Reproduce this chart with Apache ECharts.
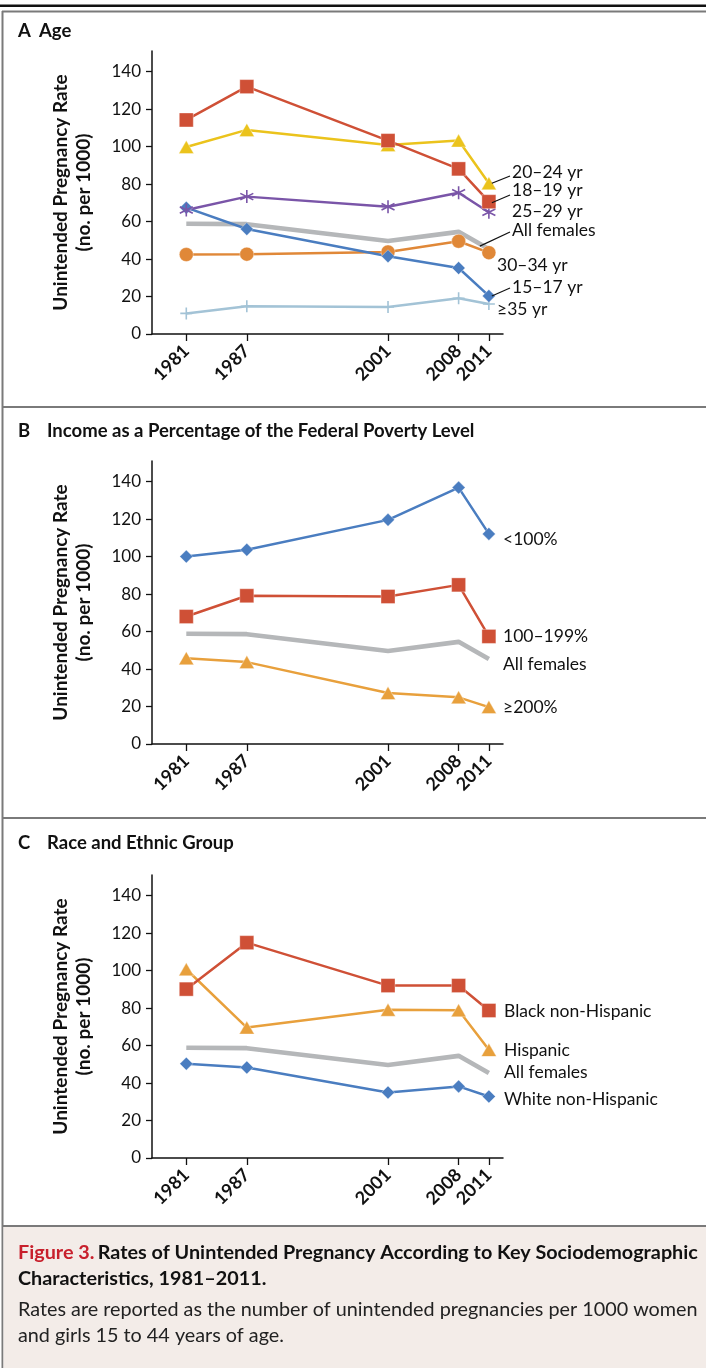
<!DOCTYPE html>
<html>
<head>
<meta charset="utf-8">
<title>Rates of Unintended Pregnancy, 1981–2011</title>
<script src="https://cdn.jsdelivr.net/npm/echarts@6/dist/echarts.min.js"></script>
<style>
  html, body { margin: 0; padding: 0; background: #ffffff; }
  #chart { width: 706px; height: 1368px; }
</style>
</head>
<body>
<div id="chart"></div>
<script>
// Survey years (x positions) and y-axis tick values
const years = [1981, 1987, 2001, 2008, 2011];
const yTicks = [0, 20, 40, 60, 80, 100, 120, 140];

// Reference line shared by all panels
const allFemales = [58.8, 58.6, 49.6, 54.5, 45.3];

// Panel A: age groups
const age15to17 = [67.4, 56.0, 41.5, 35.2, 20.3];
const age18to19 = [114.2, 132.0, 103.2, 88.1, 70.6];
const age20to24 = [99.8, 108.9, 100.9, 103.2, 80.4];
const age25to29 = [66.2, 73.3, 67.9, 75.4, 65.0];
const age30to34 = [42.4, 42.6, 43.8, 49.5, 43.4];
const age35plus = [11.0, 14.8, 14.4, 19.1, 16.0];

// Panel B: income as a percentage of the federal poverty level
const incomeBelow100 = [100.0, 103.6, 119.6, 136.8, 112.1];
const income100to199 = [68.0, 79.1, 78.7, 84.9, 57.4];
const income200plus = [45.8, 43.7, 27.2, 24.9, 19.7];

// Panel C: race and ethnic group
const blackNonHispanic = [90.1, 114.9, 92.0, 92.0, 78.7];
const hispanic = [100.7, 69.6, 79.1, 78.8, 57.7];
const whiteNonHispanic = [50.3, 48.3, 35.0, 38.2, 32.8];

const FONT = 'Lato, "Noto Sans", sans-serif';
const C = {
  red: '#cf5036',
  yellow: '#ebc31c',
  purple: '#7a55a8',
  blue: '#4a7dc0',
  gray: '#b5b7b9',
  orange: '#e08838',
  amber: '#e8a03c',
  lightBlue: '#a3c3d6'
};

const ASTERISK = 'path://M0,-10L0,10M-8.66,-5L8.66,5M-8.66,5L8.66,-5';
const PLUS = 'path://M0,-10L0,10M-10,0L10,0';

// Marker sizes
const SQ = 14, TRI = [15, 13], DIA = 13, CIR = 14, AST = 13, PLS = 12;

function pairs(values) {
  return years.map((y, i) => [y, values[i]]);
}

// Panel layout: three stacked plots sharing the same axis geometry
const panelTops = [51, 461, 875];
const plotH = 283;

const grids = panelTops.map(t => ({ left: 152, width: 351, top: t, height: plotH, containLabel: false }));

const xAxes = panelTops.map((t, i) => ({
  type: 'value', gridIndex: i, min: 1977.6, max: 2012.4,
  axisLine: { show: true, lineStyle: { color: '#111', width: 1.5 } },
  axisTick: { show: true, length: 7, lineStyle: { color: '#111', width: 1.3 }, customValues: years },
  axisLabel: {
    customValues: years, rotate: 45, margin: 14,
    fontFamily: FONT, fontSize: 18, fontWeight: 'bold', color: '#111',
    formatter: v => String(v)
  },
  splitLine: { show: false }
}));

const yAxes = panelTops.map((t, i) => ({
  type: 'value', gridIndex: i, min: 0, max: 151,
  name: 'Unintended Pregnancy Rate\n(no. per 1000)',
  nameLocation: 'middle', nameGap: 57, nameRotate: 90,
  nameTextStyle: { fontFamily: FONT, fontSize: 19, fontWeight: 'bold', color: '#111', lineHeight: 23 },
  axisLine: { show: true, lineStyle: { color: '#111', width: 1.5 } },
  axisTick: { show: true, length: 6, lineStyle: { color: '#111', width: 1.3 }, customValues: yTicks },
  axisLabel: { customValues: yTicks, margin: 11, fontFamily: FONT, fontSize: 17, color: '#111' },
  splitLine: { show: false }
}));

function lineSeries(panel, name, values, color, symbol, size, extra) {
  const s = {
    type: 'line', name: name, xAxisIndex: panel, yAxisIndex: panel,
    data: pairs(values), symbol: symbol, symbolSize: size,
    lineStyle: { color: color, width: 2.5 },
    itemStyle: { color: color, borderColor: 'rgba(255,255,255,0.35)', borderWidth: 1 },
    emphasis: { disabled: true }, animation: false, z: 3
  };
  return Object.assign(s, extra || {});
}

function strokeSymbolSeries(panel, name, values, color, path, size) {
  return lineSeries(panel, name, values, color, path, size, {
    itemStyle: { color: 'rgba(0,0,0,0)', borderColor: color, borderWidth: 1.6 }
  });
}

function grayLine(panel) {
  return {
    type: 'line', name: 'All females', xAxisIndex: panel, yAxisIndex: panel,
    data: pairs(allFemales), symbol: 'none',
    lineStyle: { color: C.gray, width: 4.6 }, emphasis: { disabled: true },
    animation: false, z: 2
  };
}

const series = [
  // Panel A
  grayLine(0),
  strokeSymbolSeries(0, '≥35 yr', age35plus, C.lightBlue, PLUS, PLS),
  lineSeries(0, '30–34 yr', age30to34, C.orange, 'circle', CIR),
  lineSeries(0, '15–17 yr', age15to17, C.blue, 'diamond', DIA),
  strokeSymbolSeries(0, '25–29 yr', age25to29, C.purple, ASTERISK, AST),
  lineSeries(0, '20–24 yr', age20to24, C.yellow, 'triangle', TRI),
  lineSeries(0, '18–19 yr', age18to19, C.red, 'rect', SQ),
  // Panel B
  grayLine(1),
  lineSeries(1, '≥200%', income200plus, C.amber, 'triangle', TRI),
  lineSeries(1, '100–199%', income100to199, C.red, 'rect', SQ),
  lineSeries(1, '<100%', incomeBelow100, C.blue, 'diamond', DIA),
  // Panel C
  grayLine(2),
  lineSeries(2, 'White non-Hispanic', whiteNonHispanic, C.blue, 'diamond', DIA),
  lineSeries(2, 'Hispanic', hispanic, C.amber, 'triangle', TRI),
  lineSeries(2, 'Black non-Hispanic', blackNonHispanic, C.red, 'rect', SQ)
];

// Frame, panel headings and figure caption
const frame = [
  { type: 'rect', shape: { x: 0, y: 4.5, width: 706, height: 2.5 }, style: { fill: '#111' }, silent: true },
  { type: 'line', shape: { x1: 2, y1: 11.5, x2: 706, y2: 11.5 }, style: { stroke: '#7a7a7a', lineWidth: 2 }, silent: true },
  { type: 'line', shape: { x1: 2.5, y1: 11, x2: 2.5, y2: 1368 }, style: { stroke: '#7a7a7a', lineWidth: 2 }, silent: true },
  { type: 'line', shape: { x1: 2, y1: 407, x2: 706, y2: 407 }, style: { stroke: '#7a7a7a', lineWidth: 2 }, silent: true },
  { type: 'line', shape: { x1: 2, y1: 818, x2: 706, y2: 818 }, style: { stroke: '#7a7a7a', lineWidth: 2 }, silent: true },
  { type: 'rect', shape: { x: 3.5, y: 1227, width: 703, height: 141 }, style: { fill: '#f3ece8' }, silent: true },
  { type: 'line', shape: { x1: 2, y1: 1226, x2: 706, y2: 1226 }, style: { stroke: '#7a7a7a', lineWidth: 2 }, silent: true }
];

function heading(letter, text, y, textX) {
  return [
    { type: 'text', x: 18, y: y, silent: true,
      style: { text: letter, verticalAlign: 'middle', font: 'bold 18.5px ' + FONT, fill: '#111' } },
    { type: 'text', x: textX, y: y, silent: true,
      style: { text: text, verticalAlign: 'middle', font: 'bold 18.5px ' + FONT, fill: '#111' } }
  ];
}

const headings = [].concat(
  heading('A', 'Age', 31, 39),
  heading('B', 'Income as a Percentage of the Federal Poverty Level', 431, 47),
  heading('C', 'Race and Ethnic Group', 843, 47)
);

const CAP = 19.8;
const caption = [
  {
    type: 'text', x: 18, y: 1253, silent: true,
    style: {
      text: '{r|Figure 3.} {b|Rates of Unintended Pregnancy According to Key Sociodemographic}',
      verticalAlign: 'middle',
      rich: {
        r: { fontFamily: FONT, fontSize: CAP, fontWeight: 'bold', fill: '#c8202c' },
        b: { fontFamily: FONT, fontSize: CAP, fontWeight: 'bold', fill: '#111' }
      }
    }
  },
  { type: 'text', x: 18, y: 1279, silent: true,
    style: { text: 'Characteristics, 1981–2011.', verticalAlign: 'middle', font: 'bold ' + CAP + 'px ' + FONT, fill: '#111' } },
  { type: 'text', x: 18, y: 1310, silent: true,
    style: { text: 'Rates are reported as the number of unintended pregnancies per 1000 women', verticalAlign: 'middle', font: CAP + 'px ' + FONT, fill: '#222' } },
  { type: 'text', x: 18, y: 1336, silent: true,
    style: { text: 'and girls 15 to 44 years of age.', verticalAlign: 'middle', font: CAP + 'px ' + FONT, fill: '#222' } }
];

// Series labels placed to the right of each panel; leader lines point to the 2011 point
const seriesLabels = [
  { text: '20–24 yr', x: 512, y: 172, panel: 0, values: age20to24, leader: [510, 176], off: [3, 0] },
  { text: '18–19 yr', x: 512, y: 190, panel: 0, values: age18to19, leader: [510, 195], off: [3, 1] },
  { text: '25–29 yr', x: 512, y: 211, panel: 0 },
  { text: 'All females', x: 512, y: 230, panel: 0, values: allFemales, leader: [510, 232], off: [-9, -3] },
  { text: '30–34 yr', x: 497, y: 265, panel: 0 },
  { text: '15–17 yr', x: 512, y: 287, panel: 0, values: age15to17, leader: [510, 288], off: [3, 0] },
  { text: '≥35 yr', x: 497, y: 309, panel: 0 },
  { text: '<100%', x: 503, y: 539, panel: 1 },
  { text: '100–199%', x: 503, y: 636, panel: 1 },
  { text: 'All females', x: 503, y: 664, panel: 1 },
  { text: '≥200%', x: 503, y: 707, panel: 1 },
  { text: 'Black non-Hispanic', x: 504, y: 1011, panel: 2 },
  { text: 'Hispanic', x: 504, y: 1050, panel: 2 },
  { text: 'All females', x: 504, y: 1072, panel: 2 },
  { text: 'White non-Hispanic', x: 504, y: 1099, panel: 2 }
];

const chart = echarts.init(document.getElementById('chart'), null, { renderer: 'canvas', width: 706, height: 1368 });

chart.setOption({
  backgroundColor: '#ffffff',
  animation: false,
  grid: grids,
  xAxis: xAxes,
  yAxis: yAxes,
  series: series,
  graphic: { elements: frame.concat(headings, caption) }
});

// Add labels and leader lines once the axes are laid out
const labelElements = [];
seriesLabels.forEach(l => {
  labelElements.push({
    type: 'text', x: l.x, y: l.y, silent: true,
    style: { text: l.text, verticalAlign: 'middle', font: '17.5px ' + FONT, fill: '#111' }
  });
  if (l.leader) {
    const last = years.length - 1;
    const p = chart.convertToPixel({ gridIndex: l.panel }, [years[last], l.values[last]]);
    labelElements.push({
      type: 'line', silent: true, z: 10,
      shape: { x1: l.leader[0], y1: l.leader[1], x2: p[0] + l.off[0], y2: p[1] + l.off[1] },
      style: { stroke: '#111', lineWidth: 1.2 }
    });
  }
});

chart.setOption({ graphic: { elements: frame.concat(headings, caption, labelElements) } });
</script>
</body>
</html>
